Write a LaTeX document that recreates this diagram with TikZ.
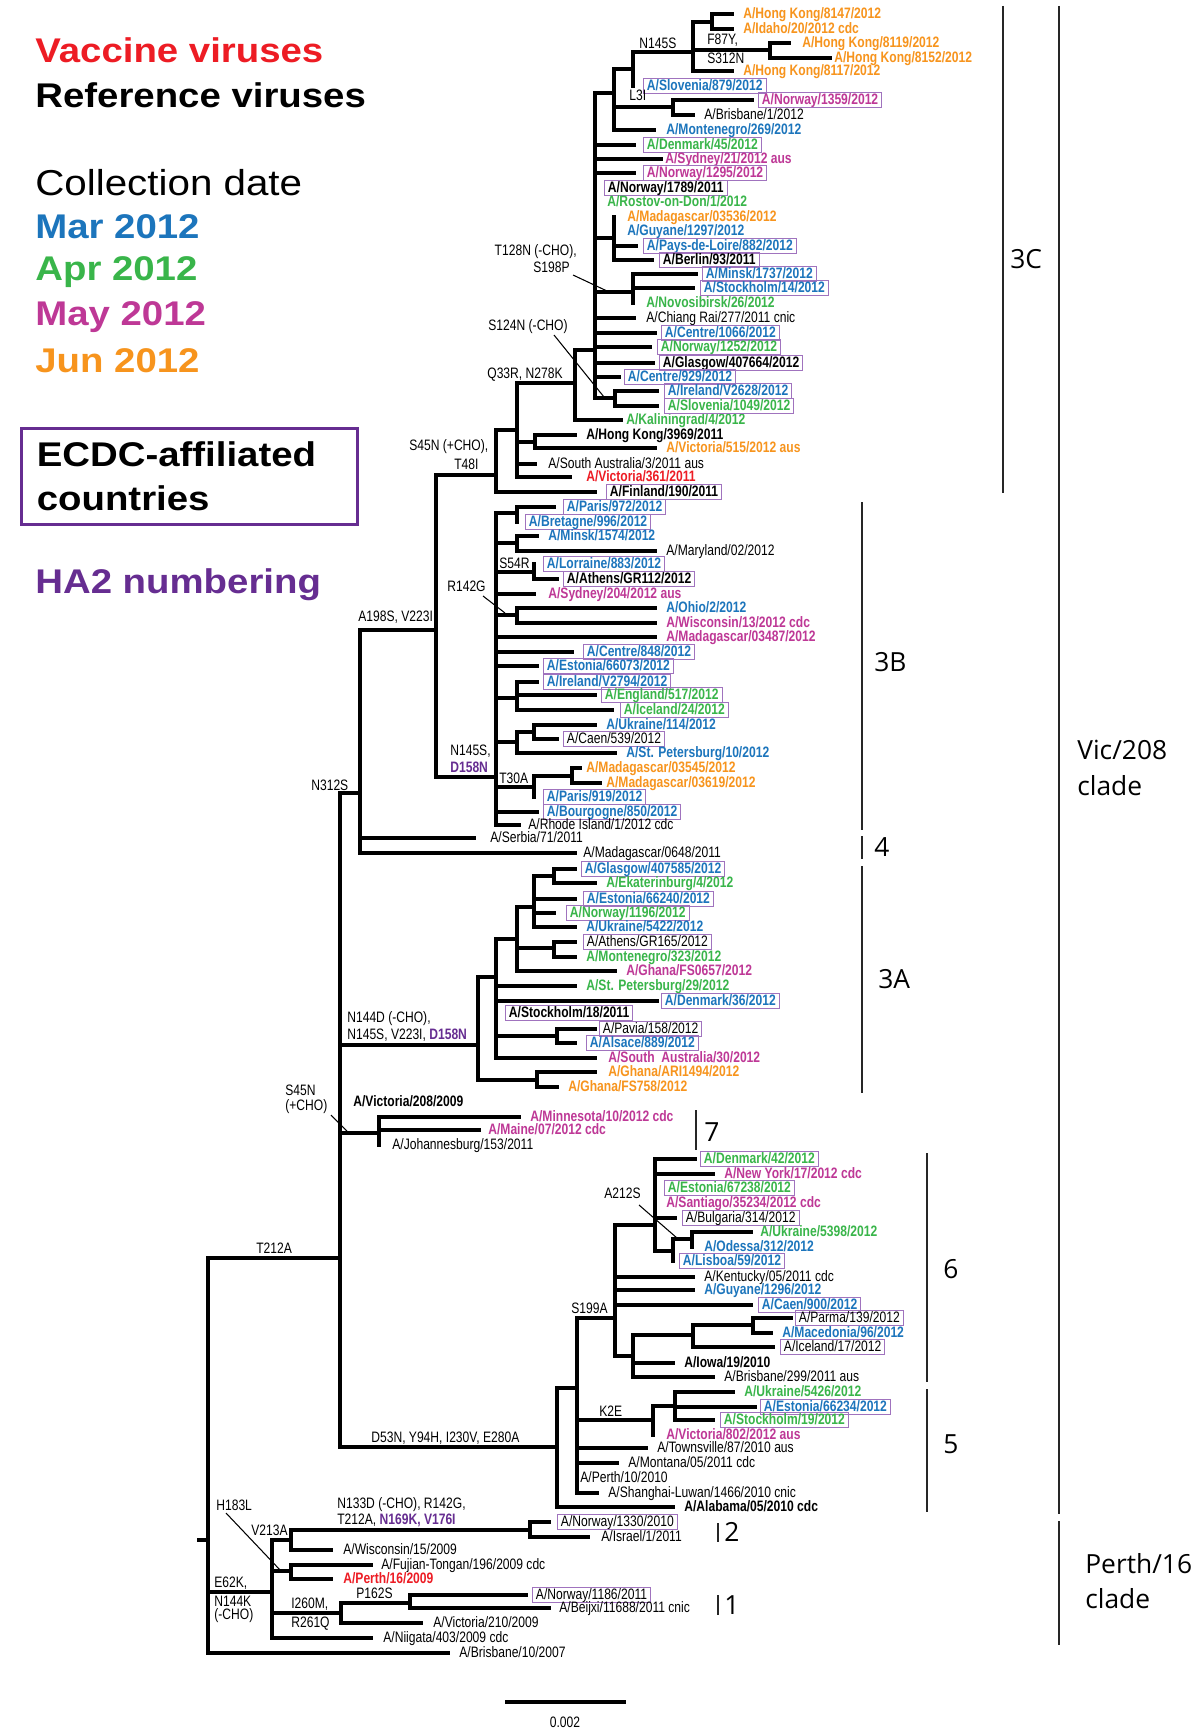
\documentclass[tikz,border=0pt]{standalone}
\usepackage{fontspec}
\setmainfont{Liberation Sans}
\newfontfamily\treefont[FakeStretch=0.8]{Liberation Sans}
\newfontfamily\legfont[FakeStretch=1.12]{Liberation Sans}
\newfontfamily\cladefont{Open Sans}
\usetikzlibrary{positioning}
\definecolor{cmar}{RGB}{28,117,188}
\definecolor{capr}{RGB}{57,181,74}
\definecolor{cmay}{RGB}{190,56,150}
\definecolor{cjun}{RGB}{247,148,29}
\definecolor{cvac}{RGB}{237,28,36}
\definecolor{cpur}{RGB}{102,45,145}
\definecolor{boxpur}{RGB}{160,115,190}
\newcommand{\leaffont}{\treefont\fontsize{8.6}{9.5}\selectfont}
% branches: horizontal x1 x2 y, vertical x y1 y2
\newcommand{\hb}[3]{\draw[br] (#1,#3) -- (#2,#3);}
\newcommand{\vb}[3]{\draw[br] (#1,#2) -- (#1,#3);}

\begin{document}
\begin{tikzpicture}[x=0.02cm, y=-0.02cm,
  br/.style={line width=1.9pt, line cap=rect},
  ldr/.style={line width=0.6pt},
  brk/.style={line width=1pt, black!85},
  lf/.style={font=\leaffont, inner sep=0pt, anchor=west, text height=6.2pt, text depth=1.6pt},
  bx/.style={lf, draw=boxpur, line width=0.5pt, inner xsep=2pt, inner ysep=0.2pt},
  bk/.style={font=\leaffont\bfseries},
  mar/.style={text=cmar, font=\leaffont\bfseries},
  apr/.style={text=capr, font=\leaffont\bfseries},
  may/.style={text=cmay, font=\leaffont\bfseries},
  jun/.style={text=cjun, font=\leaffont\bfseries},
  vac/.style={text=cvac, font=\leaffont\bfseries},
  mut/.style={font=\leaffont, inner sep=0pt, anchor=west},
  mutr/.style={font=\leaffont, inner sep=0pt, anchor=east},
  cld/.style={font=\cladefont\fontsize{15}{20}\selectfont, inner sep=0pt, anchor=west, align=left},
  leg/.style={font=\legfont\fontsize{19.5}{25}\selectfont\bfseries, inner sep=0pt, anchor=west}]

\fill[white] (0,0) rectangle (1192,1730);
\useasboundingbox (0,0) rectangle (1192,1730);

% legend
\node[leg, text=cvac] (vacc) at (35,50) {Vaccine viruses};
\node[leg] (refv) at (35,95) {Reference viruses};
\node[leg, font=\legfont\fontsize{20.5}{25}\selectfont] (cdate) at (35,183) {Collection date};
\node[leg, text=cmar] (lmar) at (35,227) {Mar 2012};
\node[leg, text=capr] (lapr) at (35,272) {Apr 2012};
\node[leg, text=cmay] (lmay) at (35,317) {May 2012};
\node[leg, text=cjun] (ljun) at (35,361) {Jun 2012};
\node[leg, draw=cpur, line width=1.5pt, anchor=north west, minimum width=6.72cm, minimum height=1.92cm,
  inner xsep=0.3cm, text width=6.1cm, align=left] (ecdc) at (20,427) {ECDC-affiliated\\countries};
\node[leg, text=cpur] (ha2) at (35,585) {HA2 numbering};

% root and Perth/16 clade
\hb{199}{208}{1540}
\vb{208}{1258}{1653}
\hb{208}{340}{1258}
\node[mut] (mT212A) at (256,1248) {T212A};
\hb{208}{448}{1653}
\node[lf] (bri10) at (459,1653) {A/Brisbane/10/2007};
\hb{208}{272}{1592}
\node[mut] (mE62K) at (214,1583) {E62K,};
\node[mut] (mN144K) at (214,1601) {N144K};
\node[mut] (mcho) at (214,1616) {(-CHO)};
\vb{272}{1540}{1638}
\hb{272}{291}{1540}
\vb{291}{1530}{1550}
\node[mut] (mV213A) at (251,1530) {V213A};
\hb{291}{530}{1530}
\node[mut] (mN133D) at (337,1505) {N133D (-CHO), R142G,};
\node[mut] (mT212Ab) at (337,1520) {T212A, {\color{cpur}\bfseries N169K, V176I}};
\vb{530}{1522}{1537}
\hb{530}{549}{1522}
\node[bx] (nor1330) at (557,1522) {A/Norway/1330/2010};
\hb{530}{588}{1537}
\node[lf] (isr1) at (601,1537) {A/Israel/1/2011};
\hb{291}{331}{1550}
\node[lf] (wis15) at (343,1550) {A/Wisconsin/15/2009};
\node[mut] (mH183L) at (216,1505) {H183L};
\draw[ldr] (226,1513) -- (281,1571);
\hb{272}{291}{1571}
\vb{291}{1565}{1579}
\hb{291}{371}{1565}
\node[lf] (fuj196) at (381,1565) {A/Fujian-Tongan/196/2009 cdc};
\hb{291}{331}{1579}
\node[lf,vac] (per16) at (343,1579) {A/Perth/16/2009};
\hb{272}{341}{1613}
\node[mut] (mI260M) at (291,1604) {I260M,};
\node[mut] (mR261Q) at (291,1624) {R261Q};
\vb{341}{1603}{1623}
\hb{341}{410}{1603}
\node[mut] (mP162S) at (356,1593) {P162S};
\vb{410}{1595}{1608}
\hb{410}{526}{1595}
\node[bx] (nor1186) at (532,1595) {A/Norway/1186/2011};
\hb{410}{549}{1608}
\node[lf] (bei11688) at (559,1608) {A/Beijxi/11688/2011 cnic};
\hb{341}{421}{1623}
\node[lf] (vic210) at (433,1623) {A/Victoria/210/2009};
\hb{272}{371}{1638}
\node[lf] (nii403) at (383,1638) {A/Niigata/403/2009 cdc};

% scale bar
\draw[br] (507,1702) -- (624,1702);
\node[font=\leaffont, inner sep=0pt] (scl) at (565,1722) {0.002};

% Vic/208 clade backbone
\vb{340}{793}{1447}
\node[mut] (mS45Na) at (285,1090) {S45N};
\node[mut] (mS45Nb) at (285,1107) {(+CHO)};
\draw[ldr] (331,1115) -- (347,1131);
\hb{340}{360}{793}
\node[mut] (mN312S) at (311,785) {N312S};
\vb{360}{630}{853}
\hb{360}{474}{838}
\node[lf] (ser71) at (490,838) {A/Serbia/71/2011};
\hb{360}{575}{853}
\node[lf] (mad0648) at (583,853) {A/Madagascar/0648/2011};
\hb{360}{436}{630}
\node[mut] (mA198S) at (358,617) {A198S, V223I};
\vb{436}{475}{777}

% 3C and relatives
\hb{436}{496}{475}
\node[mut] (mS45Nc) at (409,447) {S45N (+CHO),};
\node[mut] (mT48I) at (454,464) {T48I};
\vb{496}{430}{492}
\hb{496}{595}{492}
\node[bx,bk] (fin190) at (606,492) {A/Finland/190/2011};
\hb{496}{517}{430}
\vb{517}{383}{477}
\hb{517}{535}{442}
\vb{535}{435}{448}
\hb{535}{575}{435}
\node[lf,bk] (hk3969) at (586,435) {A/Hong Kong/3969/2011};
\hb{535}{655}{448}
\node[lf,jun] (vic515) at (666,448) {A/Victoria/515/2012 aus};
\hb{517}{535}{464}
\node[lf] (sa3) at (548,464) {A/South Australia/3/2011 aus};
\hb{517}{570}{477}
\node[lf,vac] (vic361) at (586,477) {A/Victoria/361/2011};
\hb{517}{575}{383}
\node[mut] (mQ33R) at (487,375) {Q33R, N278K};
\vb{575}{350}{420}
\hb{575}{621}{420}
\node[lf,apr] (kal4) at (626,420) {A/Kaliningrad/4/2012};
\hb{575}{595}{350}
\vb{595}{93}{398}
% N145S group
\hb{595}{614}{93}
\vb{614}{69}{130}
\hb{614}{633}{69}
\vb{633}{52}{86}
\hb{633}{693}{52}
\node[mut] (mN145S) at (639,43) {N145S};
\vb{693}{22}{71}
\hb{693}{712}{22}
\vb{712}{14}{29}
\hb{712}{732}{14}
\node[lf,jun] (hk8147) at (743,14) {A/Hong Kong/8147/2012};
\hb{712}{732}{29}
\node[lf,jun] (ida20) at (743,29) {A/Idaho/20/2012 cdc};
\hb{693}{770}{50}
\node[mut] (mF87Y) at (707,40) {F87Y,};
\node[mut] (mS312N) at (707,58) {S312N};
\vb{770}{43}{58}
\hb{770}{789}{43}
\node[lf,jun] (hk8119) at (802,43) {A/Hong Kong/8119/2012};
\hb{770}{830}{58}
\node[lf,jun] (hk8152) at (834,58) {A/Hong Kong/8152/2012};
\hb{693}{732}{71}
\node[lf,jun] (hk8117) at (743,71) {A/Hong Kong/8117/2012};
\node[bx,mar] (slo879) at (643,86) {A/Slovenia/879/2012};
\node[mut] (mL3I) at (629,95) {L3I};
\hb{614}{673}{107}
\vb{673}{100}{115}
\hb{673}{752}{100}
\node[bx,may] (nor1359) at (758,100) {A/Norway/1359/2012};
\hb{673}{693}{115}
\node[lf] (bri1) at (704,115) {A/Brisbane/1/2012};
\hb{614}{654}{130}
\node[lf,mar] (mon269) at (666,130) {A/Montenegro/269/2012};
% 3C polytomy
\hb{595}{634}{145}
\node[bx,apr] (den45) at (643,145) {A/Denmark/45/2012};
\hb{595}{661}{159}
\node[lf,may] (syd21) at (665,159) {A/Sydney/21/2012 aus};
\hb{595}{634}{173}
\node[bx,may] (nor1295) at (643,173) {A/Norway/1295/2012};
\node[bx,bk] (nor1789) at (604,188) {A/Norway/1789/2011};
\node[lf,apr] (ros1) at (607,202) {A/Rostov-on-Don/1/2012};
\hb{595}{614}{238}
\vb{614}{217}{260}
\node[lf,jun] (mad03536) at (627,217) {A/Madagascar/03536/2012};
\node[lf,mar] (guy1297) at (627,231) {A/Guyane/1297/2012};
\hb{614}{636}{246}
\node[bx,mar] (pdl882) at (643,246) {A/Pays-de-Loire/882/2012};
\hb{614}{652}{260}
\node[bx,bk] (ber93) at (659,260) {A/Berlin/93/2011};
\node[mutr] (mT128N) at (577,252) {T128N (-CHO),};
\node[mutr] (mS198P) at (570,267) {S198P};
\draw[ldr] (573,275) -- (607,291);
\hb{595}{633}{292}
\vb{633}{274}{303}
\hb{633}{696}{274}
\node[bx,mar] (min1737) at (702,274) {A/Minsk/1737/2012};
\hb{633}{693}{288}
\node[bx,mar] (sto14) at (700,288) {A/Stockholm/14/2012};
\node[lf,apr] (nov26) at (646,303) {A/Novosibirsk/26/2012};
\hb{595}{634}{318}
\node[lf] (chi277) at (646,318) {A/Chiang Rai/277/2011 cnic};
\node[mutr] (mS124N) at (568,327) {S124N (-CHO)};
\draw[ldr] (554,335) -- (604,397);
\hb{595}{655}{333}
\node[bx,mar] (cen1066) at (661,333) {A/Centre/1066/2012};
\hb{595}{650}{347}
\node[bx,apr] (nor1252) at (657,347) {A/Norway/1252/2012};
\hb{595}{653}{363}
\node[bx,bk] (gla407664) at (659,363) {A/Glasgow/407664/2012};
\hb{595}{619}{377}
\node[bx,mar] (cen929) at (624,377) {A/Centre/929/2012};
\hb{595}{615}{398}
\vb{615}{391}{406}
\hb{615}{657}{391}
\node[bx,mar] (ire2628) at (664,391) {A/Ireland/V2628/2012};
\hb{615}{657}{406}
\node[bx,apr] (slo1049) at (664,406) {A/Slovenia/1049/2012};

% 3B
\hb{436}{496}{777}
\node[mut] (mN145Sb) at (450,751) {N145S,};
\node[mut, text=cpur, font=\leaffont\bfseries] (mD158N) at (450,767) {D158N};
\vb{496}{513}{825}
\hb{496}{517}{513}
\vb{517}{507}{522}
\hb{517}{554}{507}
\node[bx,mar] (par972) at (563,507) {A/Paris/972/2012};
\node[bx,mar] (bre996) at (525,522) {A/Bretagne/996/2012};
\hb{496}{517}{543}
\vb{517}{536}{551}
\hb{517}{537}{536}
\node[lf,mar] (min1574) at (548,536) {A/Minsk/1574/2012};
\hb{517}{655}{551}
\node[lf] (mar02) at (666,551) {A/Maryland/02/2012};
\hb{496}{534}{572}
\node[mut] (mS54R) at (499,563) {S54R};
\vb{534}{564}{579}
\node[bx,mar] (lor883) at (543,564) {A/Lorraine/883/2012};
\hb{534}{557}{579}
\node[bx,bk] (ath112) at (563,579) {A/Athens/GR112/2012};
\hb{496}{534}{594}
\node[lf,may] (syd204) at (548,594) {A/Sydney/204/2012 aus};
\node[mut] (mR142G) at (447,586) {R142G};
\draw[ldr] (483,596) -- (505,613);
\hb{496}{517}{615}
\vb{517}{608}{623}
\hb{517}{655}{608}
\node[lf,mar] (ohi2) at (666,608) {A/Ohio/2/2012};
\hb{517}{655}{623}
\node[lf,may] (wis13) at (666,623) {A/Wisconsin/13/2012 cdc};
\hb{496}{655}{637}
\node[lf,may] (mad03487) at (666,637) {A/Madagascar/03487/2012};
\hb{496}{572}{652}
\node[bx,mar] (cen848) at (583,652) {A/Centre/848/2012};
\hb{496}{537}{666}
\node[bx,mar] (est66073) at (543,666) {A/Estonia/66073/2012};
\hb{496}{517}{698}
\vb{517}{682}{710}
\hb{517}{537}{682}
\node[bx,mar] (ire2794) at (543,682) {A/Ireland/V2794/2012};
\hb{517}{595}{695}
\node[bx,apr] (eng517) at (601,695) {A/England/517/2012};
\hb{517}{612}{710}
\node[bx,apr] (ice24) at (620,710) {A/Iceland/24/2012};
\hb{496}{517}{742}
\vb{517}{732}{753}
\hb{517}{534}{732}
\vb{534}{725}{739}
\hb{534}{595}{725}
\node[lf,mar] (ukr114) at (606,725) {A/Ukraine/114/2012};
\hb{534}{557}{739}
\node[bx] (cae539) at (563,739) {A/Caen/539/2012};
\hb{517}{615}{753}
\node[lf,mar] (stp10) at (626,753) {A/St. Petersburg/10/2012};
\hb{496}{534}{787}
\node[mut] (mT30A) at (499,778) {T30A};
\vb{534}{776}{797}
\hb{534}{572}{776}
\vb{572}{768}{783}
\hb{572}{580}{768}
\node[lf,jun] (mad03545) at (586,768) {A/Madagascar/03545/2012};
\hb{572}{600}{783}
\node[lf,jun] (mad03619) at (606,783) {A/Madagascar/03619/2012};
\node[bx,mar] (par919) at (543,797) {A/Paris/919/2012};
\hb{496}{537}{812}
\node[bx,mar] (bou850) at (543,812) {A/Bourgogne/850/2012};
\hb{496}{519}{825}
\node[lf] (rho1) at (528,825) {A/Rhode Island/1/2012 cdc};

% 3A
\hb{340}{478}{1045}
\node[mut] (mN144D) at (347,1019) {N144D (-CHO),};
\node[mut] (mN145Sc) at (347,1035) {N145S, V223I, {\color{cpur}\bfseries D158N}};
\vb{478}{977}{1080}
\hb{478}{496}{977}
\vb{496}{939}{1058}
\hb{496}{517}{939}
\vb{517}{907}{971}
\hb{517}{534}{907}
\vb{534}{876}{927}
\hb{534}{554}{876}
\vb{554}{869}{883}
\hb{554}{575}{869}
\node[bx,mar] (gla407585) at (581,869) {A/Glasgow/407585/2012};
\hb{554}{595}{883}
\node[lf,apr] (eka4) at (606,883) {A/Ekaterinburg/4/2012};
\hb{534}{575}{899}
\node[bx,mar] (est66240) at (583,899) {A/Estonia/66240/2012};
\hb{534}{554}{913}
\node[bx,apr] (nor1196) at (566,913) {A/Norway/1196/2012};
\hb{534}{575}{927}
\node[lf,mar] (ukr5422) at (586,927) {A/Ukraine/5422/2012};
\hb{517}{554}{948}
\vb{554}{942}{957}
\hb{554}{575}{942}
\node[bx] (ath165) at (583,942) {A/Athens/GR165/2012};
\hb{554}{575}{957}
\node[lf,apr] (mon323) at (586,957) {A/Montenegro/323/2012};
\hb{517}{615}{971}
\node[lf,may] (gha0657) at (626,971) {A/Ghana/FS0657/2012};
\hb{496}{575}{986}
\node[lf,apr] (stp29) at (586,986) {A/St. Petersburg/29/2012};
\hb{496}{657}{1001}
\node[bx,mar] (den36) at (661,1001) {A/Denmark/36/2012};
\node[bx,bk] (sto18) at (505,1013) {A/Stockholm/18/2011};
\hb{496}{557}{1036}
\vb{557}{1029}{1043}
\hb{557}{595}{1029}
\node[bx] (pav158) at (599,1029) {A/Pavia/158/2012};
\hb{557}{575}{1043}
\node[bx,mar] (als889) at (586,1043) {A/Alsace/889/2012};
\hb{496}{595}{1058}
\node[lf,may] (sa30) at (608,1058) {A/South\ \ Australia/30/2012};
\hb{478}{537}{1080}
\vb{537}{1072}{1087}
\hb{537}{595}{1072}
\node[lf,jun] (gha1494) at (608,1072) {A/Ghana/ARI1494/2012};
\hb{537}{557}{1087}
\node[lf,jun] (gha758) at (568,1087) {A/Ghana/FS758/2012};

% Vic/208 and group 7
\node[lf,bk] (vic208) at (353,1102) {A/Victoria/208/2009};
\hb{340}{379}{1133}
\vb{379}{1117}{1145}
\hb{379}{519}{1117}
\node[lf,may] (min10) at (530,1117) {A/Minnesota/10/2012 cdc};
\hb{379}{479}{1130}
\node[lf,may] (mai07) at (488,1130) {A/Maine/07/2012 cdc};
\node[lf] (joh153) at (392,1145) {A/Johannesburg/153/2011};

% groups 6 and 5
\hb{340}{557}{1447}
\node[mut] (mD53N) at (371,1438) {D53N, Y94H, I230V, E280A};
\vb{557}{1388}{1507}
\hb{557}{577}{1388}
\vb{577}{1318}{1493}
\hb{557}{673}{1507}
\node[lf,bk] (ala05) at (684,1507) {A/Alabama/05/2010 cdc};
\hb{577}{615}{1318}
\node[mut] (mS199A) at (571,1308) {S199A};
\vb{615}{1225}{1356}
\hb{615}{655}{1225}
\node[mut] (mA212S) at (604,1193) {A212S};
\draw[ldr] (639,1205) -- (677,1238);
\vb{655}{1159}{1251}
\hb{655}{695}{1159}
\node[bx,apr] (den42) at (700,1159) {A/Denmark/42/2012};
\hb{655}{713}{1174}
\node[lf,may] (ny17) at (724,1174) {A/New York/17/2012 cdc};
\node[bx,apr] (est67238) at (664,1188) {A/Estonia/67238/2012};
\node[lf,may] (san35234) at (666,1203) {A/Santiago/35234/2012 cdc};
\hb{655}{675}{1218}
\node[bx] (bul314) at (682,1218) {A/Bulgaria/314/2012};
\hb{655}{673}{1251}
\vb{673}{1239}{1261}
\hb{673}{692}{1239}
\vb{692}{1232}{1247}
\hb{692}{751}{1232}
\node[lf,apr] (ukr5398) at (760,1232) {A/Ukraine/5398/2012};
\node[lf,mar] (ode312) at (704,1247) {A/Odessa/312/2012};
\node[bx,mar] (lis59) at (679,1261) {A/Lisboa/59/2012};
\hb{615}{693}{1277}
\node[lf] (ken05) at (704,1277) {A/Kentucky/05/2011 cdc};
\hb{615}{693}{1290}
\node[lf,mar] (guy1296) at (704,1290) {A/Guyane/1296/2012};
\hb{615}{751}{1305}
\node[bx,mar] (cae900) at (758,1305) {A/Caen/900/2012};
\hb{615}{633}{1356}
\vb{633}{1335}{1377}
\hb{633}{693}{1335}
\vb{693}{1325}{1347}
\hb{693}{753}{1325}
\vb{753}{1318}{1333}
\hb{753}{791}{1318}
\node[bx] (par139) at (795,1318) {A/Parma/139/2012};
\hb{753}{771}{1333}
\node[lf,mar] (mac96) at (782,1333) {A/Macedonia/96/2012};
\hb{693}{773}{1347}
\node[bx] (ice17) at (780,1347) {A/Iceland/17/2012};
\hb{633}{673}{1363}
\node[lf,bk] (iow19) at (684,1363) {A/Iowa/19/2010};
\hb{633}{713}{1377}
\node[lf] (bri299) at (724,1377) {A/Brisbane/299/2011 aus};
\hb{577}{653}{1420}
\node[mut] (mK2E) at (599,1411) {K2E};
\vb{653}{1406}{1435}
\hb{653}{675}{1406}
\vb{675}{1392}{1420}
\hb{675}{733}{1392}
\node[lf,apr] (ukr5426) at (744,1392) {A/Ukraine/5426/2012};
\hb{675}{755}{1407}
\node[bx,mar] (est66234) at (760,1407) {A/Estonia/66234/2012};
\hb{675}{713}{1420}
\node[bx,apr] (sto19) at (720,1420) {A/Stockholm/19/2012};
\node[lf,may] (vic802) at (666,1435) {A/Victoria/802/2012 aus};
\hb{577}{646}{1448}
\node[lf] (tow87) at (657,1448) {A/Townsville/87/2010 aus};
\hb{577}{617}{1463}
\node[lf] (mon05) at (628,1463) {A/Montana/05/2011 cdc};
\node[lf] (per10) at (580,1478) {A/Perth/10/2010};
\hb{577}{597}{1493}
\node[lf] (sha1466) at (608,1493) {A/Shanghai-Luwan/1466/2010 cnic};

% clade brackets
\draw[brk] (1003,6) -- (1003,493);
\node[cld] (c3C) at (1010,259) {3C};
\draw[brk] (862,502) -- (862,830);
\node[cld] (c3B) at (874,662) {3B};
\draw[brk] (862,836) -- (862,859);
\node[cld] (c4) at (874,847) {4};
\draw[brk] (862,866) -- (862,1093);
\node[cld] (c3A) at (878,979) {3A};
\draw[brk] (696,1110) -- (696,1150);
\node[cld] (c7) at (704,1132) {7};
\draw[brk] (927,1153) -- (927,1382);
\node[cld] (c6) at (943,1269) {6};
\draw[brk] (927,1389) -- (927,1512);
\node[cld] (c5) at (943,1444) {5};
\draw[brk] (718,1523) -- (718,1542);
\node[cld] (c2) at (724,1532) {2};
\draw[brk] (718,1595) -- (718,1615);
\node[cld] (c1) at (724,1605) {1};
\draw[brk] (1059,6) -- (1059,1514);
\node[cld] (cvic) at (1077,768) {Vic/208\\clade};
\draw[brk] (1059,1521) -- (1059,1645);
\node[cld] (cper) at (1085,1581) {Perth/16\\clade};
\end{tikzpicture}
\end{document}
